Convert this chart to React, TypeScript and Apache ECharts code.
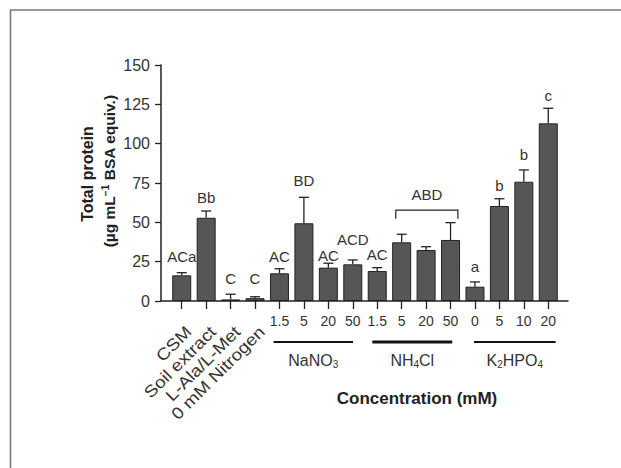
import React, { useEffect, useRef } from "react";
import * as echarts from "echarts";

const categories = ["CSM", "Soil extract", "L-Ala/L-Met", "0 mM Nitrogen", "1.5", "5", "20", "50", "1.5", "5", "20", "50", "0", "5", "10", "20"];
const rotatedCount = 4;
const values = [16.3, 52.9, 1.0, 1.8, 17.6, 49.4, 21.2, 23.3, 19.1, 37.3, 32.4, 38.8, 9.1, 60.4, 75.8, 112.9];
const errors = [1.7, 4.3, 3.3, 0.9, 2.9, 16.5, 2.8, 2.8, 2.1, 5.1, 2.1, 11.0, 3.0, 4.6, 7.5, 9.6];
const letters = ["ACa", "Bb", "C", "C", "AC", "BD", "AC", "ACD", "AC", "", "", "", "a", "b", "b", "c"];
const letterAt = [28.6, 66.1, 14.0, 14.0, 28.2, 76.5, 29.2, 38.8, 29.7, 0, 0, 0, 21.8, 73.7, 92.8, 130.9];
const yTicks = [0, 25, 50, 75, 100, 125, 150];
const groupNames = ["{n|NaNO}{s|3}", "{n|NH}{s|4}{n|Cl}", "{n|K}{s|2}{n|HPO}{s|4}"];
const groupStart = [3.76, 7.8, 11.96];
const groupEnd = [7.01, 11.07, 15.3];
const groupWidth = [2, 3, 2];
const bracketLabel = "ABD";
const bracketFrom = 8.76;
const bracketTo = 11.3;
const bracketAt = 57.8;
const bracketDrop = 5.5;

const FONT = "Liberation Sans, Arial, sans-serif";
const TXT = "#333";

export default function App() {
  const ref = useRef<HTMLDivElement>(null);
  useEffect(() => {
    if (!ref.current) return;
    const chart = echarts.init(ref.current, null, { renderer: "svg" });
    const top = 65;
    const bottom = 468 - 301;
    const option: any = {
      animation: false,
      backgroundColor: "#fff",
      grid: [
        { left: 169.5, right: 60.5, top, bottom },
        { left: 161, right: 53, top, bottom },
      ],
      xAxis: [
        {
          type: "category",
          gridIndex: 0,
          data: categories,
          axisLine: { show: false },
          axisTick: { show: true, alignWithLabel: true, length: 8, lineStyle: { color: "#222", width: 1.3 } },
          axisLabel: {
            interval: 0,
            margin: 13,
            fontSize: 14,
            fontFamily: FONT,
            color: TXT,
            formatter: (v: string, i: number) => (i < rotatedCount ? "" : v),
          },
        },
        {
          type: "value",
          gridIndex: 1,
          min: 0,
          max: 1,
          axisLine: { show: true, lineStyle: { color: "#222", width: 1.5 } },
          axisTick: { show: false },
          axisLabel: { show: false },
          splitLine: { show: false },
        },
      ],
      yAxis: [
        { type: "value", gridIndex: 0, min: 0, max: 150, interval: 25, show: false },
        {
          type: "value",
          gridIndex: 1,
          min: yTicks[0],
          max: yTicks[yTicks.length - 1],
          interval: 25,
          axisLine: { show: true, lineStyle: { color: "#222", width: 1.5 } },
          axisTick: { show: true, length: 6, lineStyle: { color: "#222", width: 1.3 } },
          axisLabel: { margin: 11, fontSize: 16, fontFamily: FONT, color: TXT },
          splitLine: { show: false },
        },
      ],
      series: [
        {
          type: "bar",
          xAxisIndex: 0,
          yAxisIndex: 0,
          data: values,
          barWidth: 19,
          itemStyle: { color: "#565656", borderColor: "#222", borderWidth: 1 },
        },
        {
          type: "custom",
          xAxisIndex: 0,
          yAxisIndex: 0,
          clip: false,
          data: values.map((v, i) => [i, v, errors[i], letterAt[i]]),
          renderItem: (params: any, api: any) => {
            const i = api.value(0);
            const v = api.value(1);
            const e = api.value(2);
            const la = api.value(3);
            const b = api.coord([i, v]);
            const t = api.coord([i, v + e]);
            const children: any[] = [
              { type: "line", shape: { x1: b[0], y1: b[1], x2: t[0], y2: t[1] }, style: { stroke: "#222", lineWidth: 1.3 } },
              { type: "line", shape: { x1: t[0] - 5, y1: t[1], x2: t[0] + 5, y2: t[1] }, style: { stroke: "#222", lineWidth: 1.3 } },
            ];
            const txt = letters[params.dataIndex];
            if (txt) {
              const p = api.coord([i, la]);
              children.push({
                type: "text",
                x: p[0],
                y: p[1],
                style: { text: txt, fontSize: 15, fontFamily: FONT, fill: TXT, align: "center", verticalAlign: "middle" },
              });
            }
            return { type: "group", children };
          },
        },
        {
          type: "custom",
          xAxisIndex: 0,
          yAxisIndex: 0,
          clip: false,
          data: categories.slice(0, rotatedCount).map((c, i) => [i, 0]),
          renderItem: (params: any, api: any) => {
            const p = api.coord([api.value(0), 0]);
            return {
              type: "text",
              x: p[0] + 7,
              y: p[1] + 28,
              rotation: Math.PI / 4,
              scaleX: 1.15,
              style: {
                text: categories[params.dataIndex],
                fontSize: 16.5,
                fontFamily: FONT,
                fill: TXT,
                align: "right",
                verticalAlign: "middle",
              },
            };
          },
        },
        {
          type: "custom",
          xAxisIndex: 0,
          yAxisIndex: 0,
          clip: false,
          data: groupNames.map((g, i) => [groupStart[i], groupEnd[i]]),
          renderItem: (params: any, api: any) => {
            const k = params.dataIndex;
            const bw = api.size([1, 0])[0];
            const xAt = (c: number) => {
              const f = Math.floor(c);
              return api.coord([f, 0])[0] + (c - f) * bw;
            };
            const y0 = api.coord([0, 0])[1];
            const x1 = xAt(groupStart[k]);
            const x2 = xAt(groupEnd[k]);
            return {
              type: "group",
              children: [
                { type: "line", shape: { x1, y1: y0 + 41, x2, y2: y0 + 41 }, style: { stroke: "#111", lineWidth: groupWidth[k] } },
                {
                  type: "text",
                  x: (x1 + x2) / 2,
                  y: y0 + 59,
                  style: {
                    text: groupNames[k],
                    align: "center",
                    verticalAlign: "middle",
                    fill: TXT,
                    rich: {
                      n: { fontSize: 16, fontFamily: FONT, fill: TXT, lineHeight: 18 },
                      s: { fontSize: 10, fontFamily: FONT, fill: TXT, verticalAlign: "bottom", lineHeight: 18, padding: [6, 0, 0, 0] },
                    },
                  },
                },
              ],
            };
          },
        },
        {
          type: "custom",
          xAxisIndex: 0,
          yAxisIndex: 0,
          clip: false,
          data: [[bracketFrom, bracketTo, bracketAt]],
          renderItem: (params: any, api: any) => {
            const bw = api.size([1, 0])[0];
            const xAt = (c: number) => {
              const f = Math.floor(c);
              return api.coord([f, 0])[0] + (c - f) * bw;
            };
            const x1 = xAt(bracketFrom);
            const x2 = xAt(bracketTo);
            const yTop = api.coord([0, bracketAt])[1];
            const yLow = api.coord([0, bracketAt - bracketDrop])[1];
            return {
              type: "group",
              children: [
                {
                  type: "polyline",
                  shape: { points: [[x1, yLow], [x1, yTop], [x2, yTop], [x2, yLow]] },
                  style: { stroke: "#222", lineWidth: 1.2, fill: "none" },
                },
                {
                  type: "text",
                  x: (x1 + x2) / 2,
                  y: yTop - 16,
                  style: { text: bracketLabel, fontSize: 15, fontFamily: FONT, fill: TXT, align: "center", verticalAlign: "middle" },
                },
              ],
            };
          },
        },
      ],
      graphic: [
        {
          type: "polyline",
          shape: { points: [[10.5, 468], [10.5, 10], [621, 10]] },
          style: { stroke: "#7a7a7a", lineWidth: 1.6, fill: "none" },
        },
        {
          type: "text",
          x: 87,
          y: 174,
          rotation: Math.PI / 2,
          style: { text: "Total protein", font: `bold 16px ${FONT}`, fill: "#222", align: "center", verticalAlign: "middle" },
        },
        {
          type: "text",
          x: 109,
          y: 171,
          rotation: Math.PI / 2,
          style: {
            text: "{b|(µg mL}{sup|−1}{b| BSA equiv.)}",
            align: "center",
            verticalAlign: "middle",
            rich: {
              b: { font: `bold 15.5px ${FONT}`, fill: "#222", lineHeight: 17 },
              sup: { font: `bold 10px ${FONT}`, fill: "#222", verticalAlign: "top", lineHeight: 17, padding: [0, 0, 6, 0] },
            },
          },
        },
        {
          type: "text",
          x: 417,
          y: 398,
          style: { text: "Concentration (mM)", font: `bold 17px ${FONT}`, fill: "#222", align: "center", verticalAlign: "middle" },
        },
      ],
    };
    chart.setOption(option);
    return () => chart.dispose();
  }, []);
  return <div ref={ref} style={{ position: "fixed", left: 0, top: 0, width: 621, height: 468, background: "#fff" }} />;
}
